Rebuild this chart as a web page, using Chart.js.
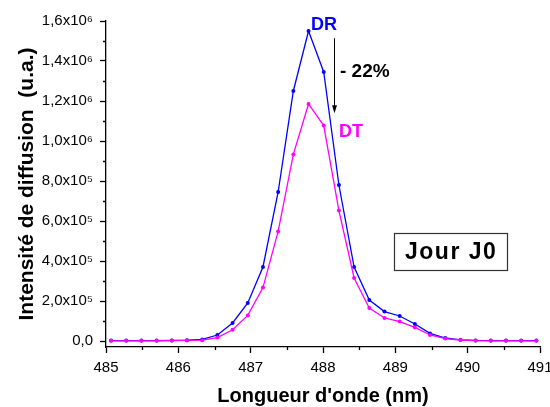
<!DOCTYPE html>
<html><head><meta charset="utf-8">
<script src="https://cdn.jsdelivr.net/npm/chart.js@4/dist/chart.umd.min.js"></script>
<style>html,body{margin:0;padding:0;background:#fff}</style>
</head><body>
<canvas id="c" width="550" height="407"></canvas>
<script>
const wavelengths = [485.07, 485.28, 485.49, 485.70, 485.91, 486.12, 486.33, 486.54, 486.75, 486.96,
  487.17, 487.38, 487.59, 487.80, 488.01, 488.22, 488.43, 488.64, 488.85, 489.06,
  489.27, 489.48, 489.69, 489.90, 490.11, 490.32, 490.53, 490.74, 490.95];
const drValues = [2000, 2000, 2000, 2000, 3000, 4000, 8000, 30000, 90000, 190000,
  370000, 745000, 1250000, 1550000, 1345000, 780000, 370000, 205000, 147000, 125000,
  85000, 38000, 15000, 6000, 3000, 2000, 2000, 2000, 2000];
const dtValues = [1000, 1000, 1000, 1000, 2000, 3000, 4000, 17000, 56000, 128000,
  267000, 548000, 933000, 1185000, 1077000, 652000, 315000, 165000, 115000, 97000,
  68000, 30000, 12000, 5000, 2000, 1000, 1000, 1000, 1000];
const xTickValues = [485, 486, 487, 488, 489, 490, 491];
const xTickLabels = ['485', '486', '487', '488', '489', '490', '491'];
const xMinorTicks = [485.5, 486.5, 487.5, 488.5, 489.5, 490.5];
const yTickValues = [0, 200000, 400000, 600000, 800000, 1000000, 1200000, 1400000, 1600000];
const yTickLabels = ['0,0', '2,0x10⁵', '4,0x10⁵', '6,0x10⁵', '8,0x10⁵', '1,0x10⁶', '1,2x10⁶', '1,4x10⁶', '1,6x10⁶'];
const yMinorTicks = [100000, 300000, 500000, 700000, 900000, 1100000, 1300000, 1500000];
const seriesNames = ['DR', 'DT'];
const dropLabel = '- 22%';
const boxLabel = 'Jour J0';

const FONT = "'Liberation Sans', Arial, Helvetica, sans-serif";
Chart.defaults.font.family = FONT;
Chart.defaults.color = '#000';

const BLUE = '#0000ff';
const MAGENTA = '#ff00ff';

const overlay = {
  id: 'overlay',
  afterDraw(chart) {
    const ctx = chart.ctx;
    const xs = chart.scales.x, ys = chart.scales.y;
    const ca = chart.chartArea;
    ctx.save();
    // minor ticks
    ctx.strokeStyle = '#000';
    ctx.lineWidth = 1.3;
    ctx.beginPath();
    yMinorTicks.forEach(v => {
      const p = Math.round(ys.getPixelForValue(v)) + 0.5;
      ctx.moveTo(ca.left, p); ctx.lineTo(ca.left - 3, p);
    });
    xMinorTicks.forEach(v => {
      const p = Math.round(xs.getPixelForValue(v)) + 0.5;
      ctx.moveTo(p, ca.bottom); ctx.lineTo(p, ca.bottom + 3);
    });
    ctx.stroke();

    // annotations
    ctx.textAlign = 'left';
    ctx.textBaseline = 'alphabetic';
    ctx.font = 'bold 18px ' + FONT;
    ctx.fillStyle = BLUE;
    ctx.fillText(seriesNames[0], xs.getPixelForValue(487.834), ys.getPixelForValue(1555000));
    ctx.fillStyle = MAGENTA;
    ctx.fillText(seriesNames[1], xs.getPixelForValue(488.221), ys.getPixelForValue(1020000));
    ctx.fillStyle = '#000';
    ctx.font = 'bold 19px ' + FONT;
    ctx.fillText(dropLabel, xs.getPixelForValue(488.235), ys.getPixelForValue(1320000));

    // arrow
    const ax = Math.round(xs.getPixelForValue(488.156)) + 0.5;
    const ay1 = ys.getPixelForValue(1513500), ay2 = ys.getPixelForValue(1138500);
    ctx.strokeStyle = '#000';
    ctx.lineWidth = 1;
    ctx.beginPath();
    ctx.moveTo(ax, ay1); ctx.lineTo(ax, ay2 - 6);
    ctx.stroke();
    ctx.beginPath();
    ctx.moveTo(ax, ay2);
    ctx.lineTo(ax - 2.5, ay2 - 8);
    ctx.lineTo(ax + 2.5, ay2 - 8);
    ctx.closePath();
    ctx.fill();

    // Jour J0 box
    const bx1 = Math.round(xs.getPixelForValue(488.986)) + 0.5;
    const bx2 = Math.round(xs.getPixelForValue(490.54)) + 0.5;
    const by1 = Math.round(ys.getPixelForValue(538500)) + 0.5;
    const by2 = Math.round(ys.getPixelForValue(355000)) + 0.5;
    ctx.strokeStyle = '#333';
    ctx.lineWidth = 1.2;
    ctx.strokeRect(bx1, by1, bx2 - bx1, by2 - by1);
    ctx.font = 'bold 23px ' + FONT;
    ctx.letterSpacing = '1.5px';
    ctx.fillStyle = '#000';
    ctx.fillText(boxLabel, xs.getPixelForValue(489.134), ys.getPixelForValue(410000));
    ctx.letterSpacing = '0px';
    ctx.restore();
  }
};

new Chart(document.getElementById('c'), {
  type: 'line',
  data: {
    datasets: [
      {
        label: seriesNames[1],
        data: wavelengths.map((x, i) => ({x: x, y: dtValues[i]})),
        borderColor: MAGENTA, backgroundColor: MAGENTA,
        borderWidth: 1.3, pointRadius: 2, pointBorderWidth: 0, tension: 0
      },
      {
        label: seriesNames[0],
        data: wavelengths.map((x, i) => ({x: x, y: drValues[i]})),
        borderColor: BLUE, backgroundColor: BLUE,
        borderWidth: 1.3, pointRadius: 2, pointBorderWidth: 0, tension: 0
      }
    ]
  },
  options: {
    responsive: false,
    animation: false,
    devicePixelRatio: 1,
    layout: {padding: {left: 0, top: 21, right: 10, bottom: 0}},
    plugins: {legend: {display: false}, tooltip: {enabled: false}},
    scales: {
      x: {
        type: 'linear', min: 485, max: 491,
        afterBuildTicks: s => { s.ticks = xTickValues.map(v => ({value: v})); },
        afterFit: s => { s.height = 60; s.paddingLeft = 0; s.paddingRight = 0; },
        ticks: {
          callback: v => xTickLabels[xTickValues.indexOf(v)],
          font: {size: 15}, color: '#000', padding: 6, maxRotation: 0, autoSkip: false
        },
        grid: {display: true, drawOnChartArea: false, drawTicks: true, tickLength: 6, tickColor: '#000', tickWidth: 1.3},
        border: {display: true, color: '#000', width: 1.3},
        title: {display: true, text: "Longueur d'onde (nm)", color: '#000',
          font: {size: 20, weight: 'bold', lineHeight: 1}, padding: {top: 0, bottom: 1}}
      },
      y: {
        type: 'linear', min: -30000, max: 1600000,
        afterBuildTicks: s => { s.ticks = yTickValues.map(v => ({value: v})); },
        afterFit: s => { s.width = 106; s.paddingTop = 0; s.paddingBottom = 0; },
        ticks: {
          callback: v => yTickLabels[yTickValues.indexOf(v)],
          font: {size: 15}, color: '#000', padding: 7, autoSkip: false
        },
        grid: {display: true, drawOnChartArea: false, drawTicks: true, tickLength: 6, tickColor: '#000', tickWidth: 1.3},
        border: {display: true, color: '#000', width: 1.3},
        title: {display: true, text: 'Intensité de diffusion  (u.a.)', color: '#000',
          font: {size: 21, weight: 'bold', lineHeight: 1.2}, padding: {top: 15, bottom: 0}}
      }
    }
  },
  plugins: [overlay]
});
</script>
</body></html>
